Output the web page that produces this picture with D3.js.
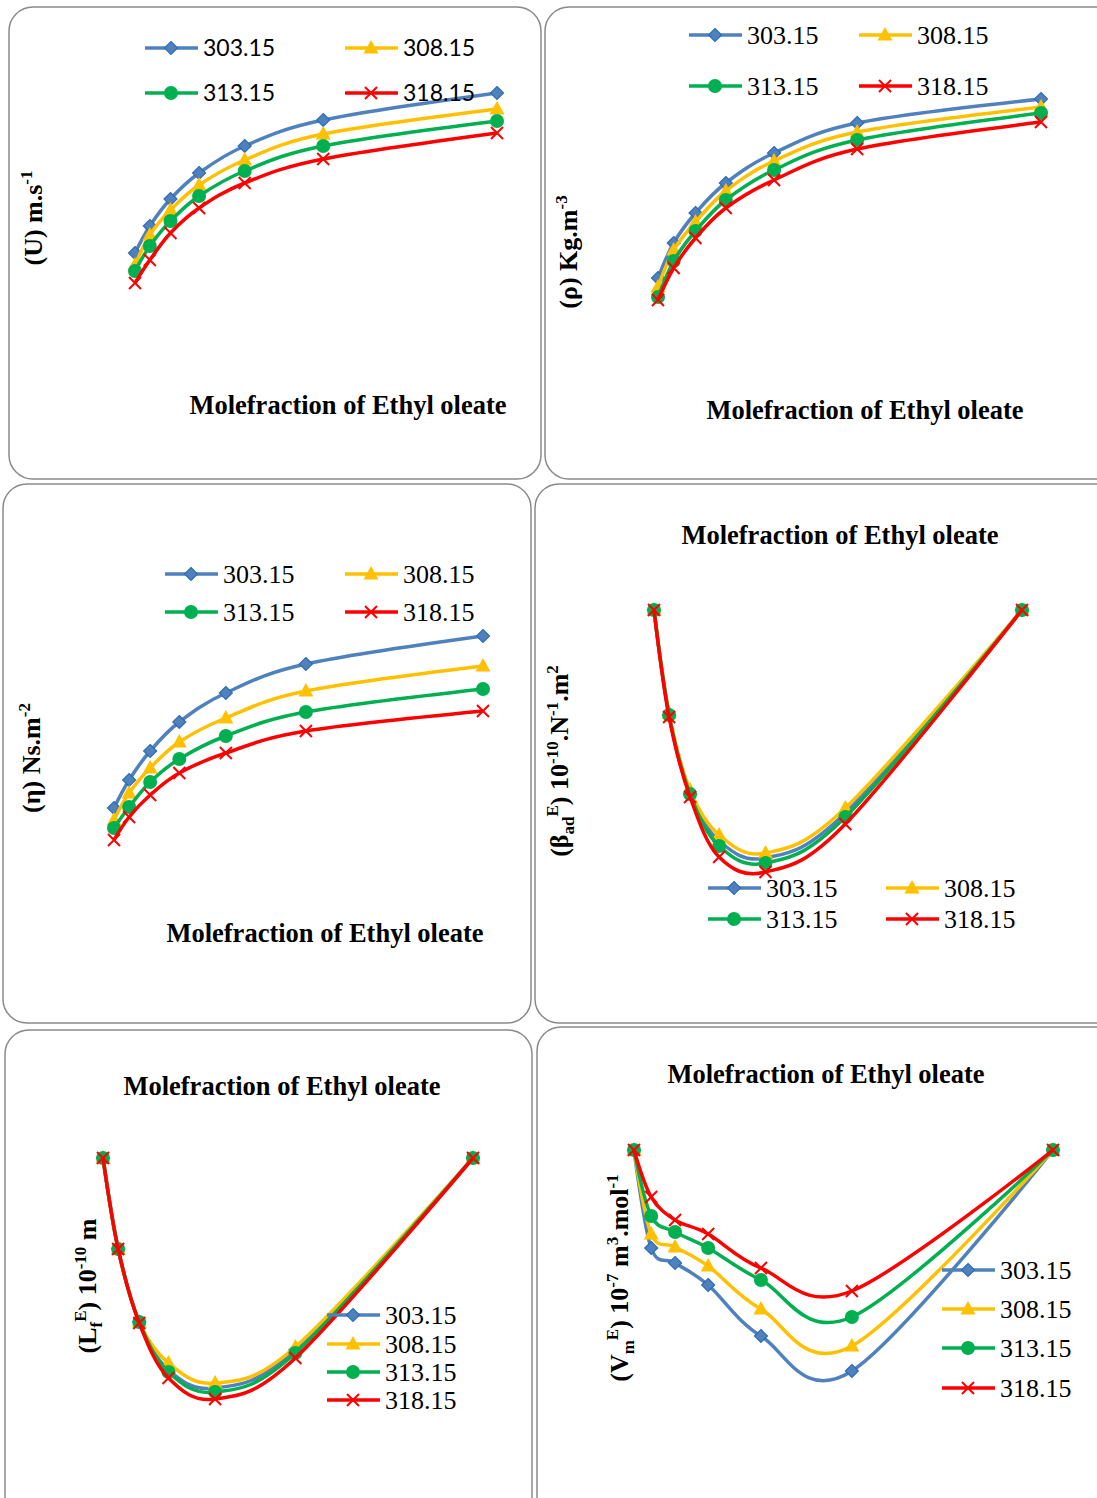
<!DOCTYPE html>
<html>
<head>
<meta charset="utf-8">
<script src="https://cdn.jsdelivr.net/npm/d3@7"></script>
<style>
  body { margin: 0; background: #fff; }
</style>
</head>
<body>
<svg id="chart" width="1097" height="1498"></svg>
<script>
// mole fraction of ethyl oleate (x axis, shared by all panels)
var moleFraction = [0, 0.041, 0.098, 0.177, 0.303, 0.52, 1];
var temperatures = ["303.15", "308.15", "313.15", "318.15"];
var seriesColors = ["#4F81BD", "#FFC000", "#00B050", "#FF0000"];
var markerTypes = ["diamond", "triangle", "circle", "cross"];

// values (relative units, no ticks on the original)
var speedU = [
  [23.5, 37, 50.5, 63.5, 77, 90, 103.5],
  [17.5, 32.5, 45, 57.5, 70, 83, 95.5],
  [14.5, 27, 39.5, 52, 64.5, 77, 89.5],
  [8.5, 20, 33.5, 46, 58.5, 70.5, 83.5]
];
var densityRho = [
  [16, 33.5, 48.5, 63.5, 78.5, 93.5, 105.5],
  [11.5, 30, 44, 59.5, 74.5, 89, 101.5],
  [6.5, 24.5, 39.5, 55, 70, 85, 98.5],
  [5, 21, 36, 51, 65, 80.5, 94]
];
var viscosityEta = [
  [21, 35, 49.5, 64, 78.5, 93, 107],
  [15, 28.5, 41, 54, 66, 79.5, 92],
  [11, 21.5, 34, 45.5, 57, 69, 80.5],
  [5, 16.5, 27.5, 38.5, 48.5, 59.5, 69.5]
];
var betaE = [
  [0, -0.420, -0.736, -0.924, -0.992, -0.812, 0],
  [0, -0.412, -0.720, -0.900, -0.972, -0.792, 0],
  [0, -0.420, -0.736, -0.944, -1.012, -0.828, 0],
  [0, -0.428, -0.748, -0.988, -1.048, -0.856, 0]
];
var freeLengthE = [
  [0, -0.364, -0.656, -0.848, -0.920, -0.768, 0],
  [0, -0.364, -0.656, -0.820, -0.900, -0.756, 0],
  [0, -0.364, -0.656, -0.856, -0.936, -0.780, 0],
  [0, -0.364, -0.660, -0.880, -0.964, -0.800, 0]
];
var molarVolumeE = [
  [0, -0.392, -0.452, -0.540, -0.744, -0.884, 0],
  [0, -0.336, -0.388, -0.464, -0.636, -0.784, 0],
  [0, -0.264, -0.328, -0.392, -0.520, -0.668, 0],
  [0, -0.188, -0.280, -0.336, -0.472, -0.564, 0]
];

var xTitle = "Molefraction of Ethyl oleate";
var serifFont = "'Liberation Serif', 'Times New Roman', serif";
var sansFont = "Lato, 'Liberation Sans', sans-serif";

var panels = [
  { data: speedU, box: [9, 7, 532, 472], xr: [135, 497], yd: [0, 110], yr: [300, 80],
    xt: [348, 405], yt: [42, 218], ylab: [["(U) m.s"], ["-1", "sup"]],
    legendFont: sansFont, legendSize: 23,
    legend: [[145, 48], [345, 48], [145, 93], [345, 93]] },
  { data: densityRho, box: [545, 7, 580, 472], xr: [658, 1041], yd: [0, 110], yr: [310, 90],
    xt: [865, 410], yt: [577, 252], ylab: [["(ρ) Kg.m"], ["-3", "sup"]],
    legendFont: serifFont, legendSize: 26,
    legend: [[689, 35], [859, 35], [689, 86], [859, 86]] },
  { data: viscosityEta, box: [3, 484, 528, 539], xr: [114, 483], yd: [0, 115], yr: [850, 620],
    xt: [325, 933], yt: [40, 758], ylab: [["(η) Ns.m"], ["-2", "sup"]],
    legendFont: serifFont, legendSize: 26,
    legend: [[165, 574], [345, 574], [165, 612], [345, 612]] },
  { data: betaE, box: [535, 484, 590, 539], xr: [654, 1022], yd: [-1.1, 0], yr: [885, 610],
    xt: [840, 535], yt: [568, 761],
    ylab: [["(β"], ["ad", "sub"], ["E", "sup"], [") 10"], ["-10", "sup"], [".N"], ["-1", "sup"], [".m"], ["2", "sup"]],
    legendFont: serifFont, legendSize: 26,
    legend: [[708, 888], [886, 888], [708, 919], [886, 919]] },
  { data: freeLengthE, box: [5, 1030, 527, 500], xr: [103, 473], yd: [-1.1, 0], yr: [1433, 1158],
    xt: [282, 1086], yt: [96, 1286],
    ylab: [["(L"], ["f", "sub"], ["E", "sup"], [") 10"], ["-10", "sup"], [" m"]],
    legendFont: serifFont, legendSize: 26,
    legend: [[327, 1315], [327, 1344], [327, 1372], [327, 1400]] },
  { data: molarVolumeE, box: [537, 1027, 590, 500], xr: [634, 1053], yd: [-1.1, 0], yr: [1425, 1150],
    xt: [826, 1074], yt: [628, 1278],
    ylab: [["(V"], ["m", "sub"], ["E", "sup"], [") 10"], ["-7", "sup"], [" m"], ["3", "sup"], [".mol"], ["-1", "sup"]],
    legendFont: serifFont, legendSize: 26,
    legend: [[942, 1270], [942, 1309], [942, 1348], [942, 1388]] }
];

var svg = d3.select("#chart");

function drawMarker(g, type, x, y, color) {
  if (type === "diamond") {
    g.append("path").attr("d", "M0,-6.5L6.5,0L0,6.5L-6.5,0Z")
      .attr("transform", "translate(" + x + "," + y + ")")
      .attr("fill", color).attr("stroke", "#2E6DB4").attr("stroke-width", 1.2);
  } else if (type === "triangle") {
    g.append("path").attr("d", "M0,-8L7.5,5.5L-7.5,5.5Z")
      .attr("transform", "translate(" + x + "," + y + ")")
      .attr("fill", color);
  } else if (type === "circle") {
    g.append("circle").attr("cx", x).attr("cy", y).attr("r", 7).attr("fill", color);
  } else {
    g.append("path").attr("d", "M-6,-6L6,6M-6,6L6,-6")
      .attr("transform", "translate(" + x + "," + y + ")")
      .attr("stroke", color).attr("stroke-width", 2).attr("fill", "none");
  }
}

panels.forEach(function (p) {
  var g = svg.append("g");

  g.append("rect")
    .attr("x", p.box[0]).attr("y", p.box[1])
    .attr("width", p.box[2]).attr("height", p.box[3])
    .attr("rx", 24).attr("ry", 24)
    .attr("fill", "#fff").attr("stroke", "#8a8a8a").attr("stroke-width", 1.5);

  var x = d3.scaleLinear().domain([0, 1]).range(p.xr);
  var y = d3.scaleLinear().domain(p.yd).range(p.yr);

  var line = d3.line()
    .x(function (d, i) { return x(moleFraction[i]); })
    .y(function (d) { return y(d); })
    .curve(d3.curveCardinal.tension(0));

  p.data.forEach(function (vals, s) {
    g.append("path").datum(vals)
      .attr("d", line)
      .attr("fill", "none")
      .attr("stroke", seriesColors[s])
      .attr("stroke-width", 3.5)
      .attr("stroke-linejoin", "round");
    vals.forEach(function (v, i) {
      drawMarker(g, markerTypes[s], x(moleFraction[i]), y(v), seriesColors[s]);
    });
  });

  // legend
  p.legend.forEach(function (pos, s) {
    g.append("line")
      .attr("x1", pos[0]).attr("x2", pos[0] + 53)
      .attr("y1", pos[1]).attr("y2", pos[1])
      .attr("stroke", seriesColors[s]).attr("stroke-width", 3.5);
    drawMarker(g, markerTypes[s], pos[0] + 26, pos[1], seriesColors[s]);
    g.append("text")
      .attr("font-family", p.legendFont)
      .attr("x", pos[0] + 58).attr("y", pos[1])
      .attr("dy", "0.36em")
      .attr("font-size", p.legendSize)
      .attr("fill", "#000")
      .text(temperatures[s]);
  });

  // axis titles
  g.append("text")
    .attr("font-family", serifFont)
    .attr("x", p.xt[0]).attr("y", p.xt[1])
    .attr("dy", "0.35em")
    .attr("text-anchor", "middle")
    .attr("font-size", 26.5).attr("font-weight", "bold")
    .text(xTitle);

  var yl = g.append("text")
    .attr("font-family", serifFont)
    .attr("transform", "translate(" + p.yt[0] + "," + p.yt[1] + ") rotate(-90)")
    .attr("text-anchor", "middle")
    .attr("font-size", 26).attr("font-weight", "bold");
  var shift = 0;
  p.ylab.forEach(function (part) {
    var t = yl.append("tspan").text(part[0]);
    var target = 0;
    if (part[1] === "sup") { t.attr("font-size", 17); target = -10; }
    else if (part[1] === "sub") { t.attr("font-size", 17); target = 6; }
    if (target !== shift) { t.attr("dy", target - shift); shift = target; }
  });
});
</script>
</body>
</html>
